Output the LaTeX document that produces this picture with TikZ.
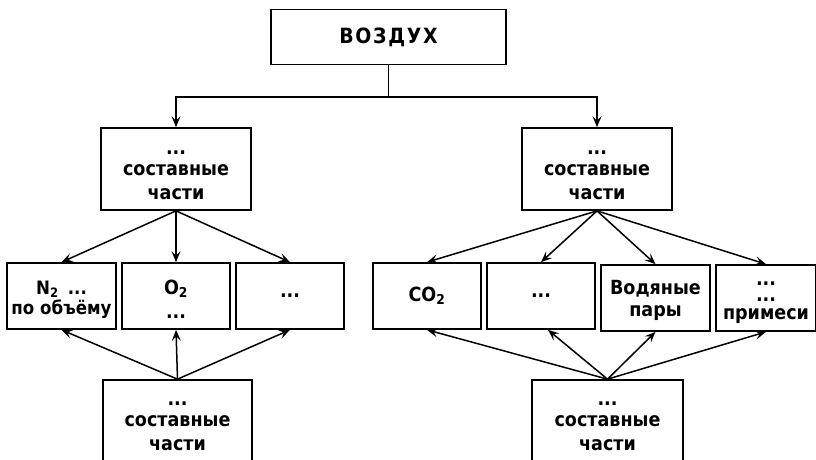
\documentclass[tikz,border=0pt]{standalone}
\usepackage{fontspec}
\setmainfont{DejaVu Sans}[FakeStretch=0.9]
\newfontfamily\spaced{DejaVu Sans}[FakeStretch=0.9, LetterSpace=8]
\usetikzlibrary{arrows.meta}
\tikzset{>={Stealth[length=11pt,width=9pt,inset=4.5pt]}}
\tikzset{box/.style={draw, line width=1.7pt, align=center, inner sep=0pt,
  font=\bfseries\fontsize{19.5}{24}\selectfont}}
\newcommand{\partstext}{\rule{0pt}{16pt}...\\[-3pt]составные\\части}

\begin{document}
\begin{tikzpicture}[x=1pt,y=-1pt]
\clip (0,0) rectangle (816,459);
\useasboundingbox (0,0) rectangle (816,459);
\node[box, minimum width=235pt, minimum height=55pt, font=\bfseries\fontsize{21}{24}\selectfont] (air) at (388.5,37) {\spaced ВОЗДУХ};
\node[box, minimum width=150pt, minimum height=82pt] (partL) at (176,169) {\partstext};
\node[box, minimum width=150pt, minimum height=82pt] (partR) at (597,169) {\partstext};
\node[box, minimum width=109pt, minimum height=66pt, font=\bfseries\fontsize{18.5}{23}\selectfont] (n2) at (61.5,296) {\rule{0pt}{20pt}N\textsubscript{2}\enspace...\\[-3pt]по объёму};
\node[box, minimum width=108pt, minimum height=66pt] (o2) at (176,296) {\rule{0pt}{20pt}O\textsubscript{2}\\...};
\node[box, minimum width=108pt, minimum height=66pt] (dotsL) at (290,296) {...};
\node[box, minimum width=108pt, minimum height=66pt] (co2) at (427,296) {CO\textsubscript{2}};
\node[box, minimum width=108pt, minimum height=66pt] (dotsR) at (541,296) {...};
\node[box, minimum width=109pt, minimum height=66pt] (water) at (655.5,298) {\rule{0pt}{20pt}Водяные\\[-2pt]пары};
\node[box, minimum width=100pt, minimum height=66pt] (mix) at (766,298) {\rule{0pt}{14pt}...\\[-8pt]...\\[-6pt]примеси};
\node[box, minimum width=149pt, minimum height=81pt] (restL) at (177.5,420.5) {\partstext};
\node[box, minimum width=151pt, minimum height=81pt] (restR) at (607.5,420.5) {\partstext};
% connectors
\coordinate (fork) at (388.5,97);
\draw[line width=1.5pt] (air.south) -- (fork);
\draw[->, line width=1.5pt] (fork) -| (partL.north);
\draw[->, line width=1.5pt] (fork) -| (partR.north);
\foreach \t in {n2,o2,dotsL}
\draw[->, line width=1.5pt] (partL.south) -- (\t.north);
\foreach \t in {co2,dotsR,water,mix}
\draw[->, line width=1.5pt] (partR.south) -- (\t.north);
\foreach \t in {n2,o2,dotsL}
\draw[->, line width=1.5pt] (restL.north) -- (\t.south);
\foreach \t in {co2,water,mix}
\draw[->, line width=1.5pt] (restR.north) -- (\t.south);
\draw[->, line width=1.5pt] (restR.north) -- ([xshift=7pt]dotsR.south);
\end{tikzpicture}
\end{document}
